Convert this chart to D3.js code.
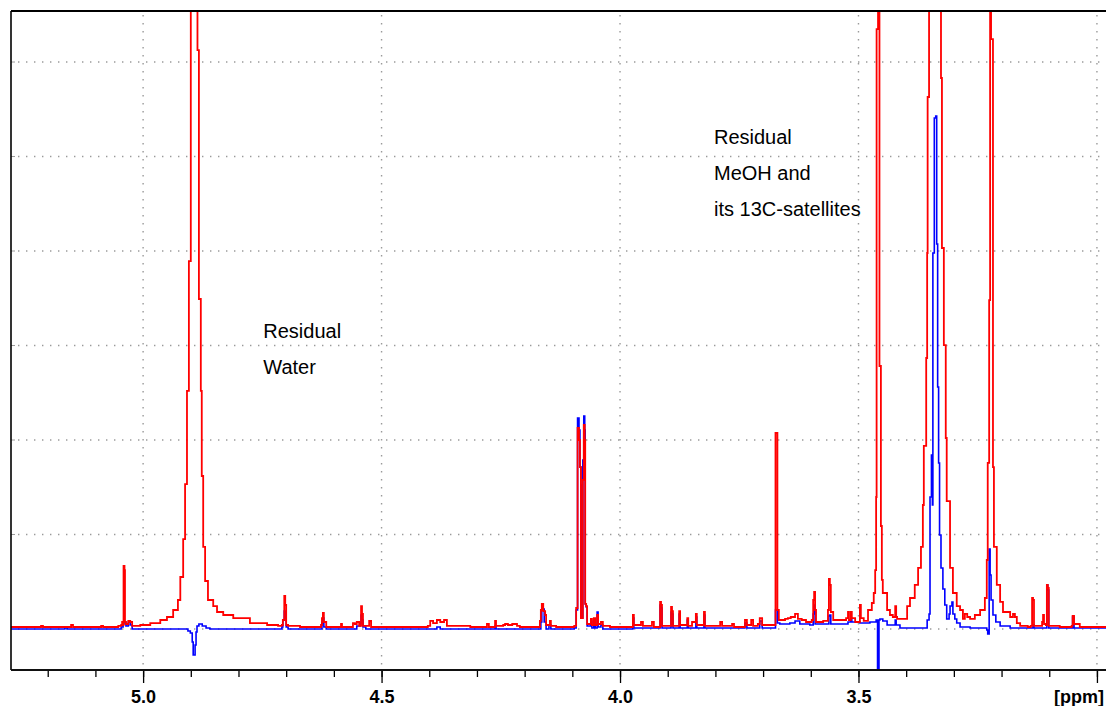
<!DOCTYPE html>
<html>
<head>
<meta charset="utf-8">
<script src="https://cdn.jsdelivr.net/npm/d3@7"></script>
<style>
  html, body { margin: 0; padding: 0; background: #fff; overflow: hidden; }
  svg { display: block; }
</style>
</head>
<body>
<svg id="chart" width="1106" height="706"></svg>
<script>
// 1H NMR overlay, 5.28 - 2.98 ppm. Points are [ppm, intensity]; intensity in grid units.
const OFF = 8; // intensity above the top of the plot frame (clipped)

// red spectrum
const redTrace = [
  [5.277,0.021],[5.216,0.021],[5.214,0.032],[5.210,0.021],[5.153,0.021],[5.151,0.042],[5.147,0.021],
  [5.090,0.021],[5.088,0.032],[5.084,0.021],[5.052,0.032],[5.046,0.042],[5.044,0.074],[5.042,0.042],
  [5.041,0.667],[5.039,0.624],[5.038,0.074],[5.036,0.053],[5.031,0.085],[5.027,0.074],[5.023,0.032],
  [5.006,0.042],[4.985,0.063],[4.964,0.095],[4.950,0.127],[4.937,0.201],[4.927,0.307],[4.922,0.550],
  [4.916,0.952],[4.912,1.534],[4.908,2.519],[4.904,3.894],[4.900,OFF],[4.886,6.127],[4.883,3.492],
  [4.879,2.519],[4.877,1.619],[4.874,0.868],[4.870,0.508],[4.864,0.307],[4.853,0.243],[4.845,0.180],
  [4.832,0.148],[4.811,0.116],[4.776,0.063],[4.740,0.042],[4.717,0.032],[4.709,0.042],[4.707,0.095],
  [4.704,0.349],[4.702,0.254],[4.700,0.042],[4.696,0.032],[4.671,0.021],[4.627,0.042],[4.625,0.116],
  [4.623,0.169],[4.621,0.074],[4.616,0.021],[4.587,0.021],[4.585,0.053],[4.583,0.021],[4.560,0.063],
  [4.556,0.053],[4.552,0.074],[4.547,0.032],[4.543,0.243],[4.541,0.159],[4.539,0.032],[4.526,0.085],
  [4.522,0.021],[4.403,0.032],[4.398,0.085],[4.392,0.063],[4.384,0.095],[4.377,0.074],[4.369,0.095],
  [4.363,0.032],[4.314,0.021],[4.279,0.053],[4.275,0.021],[4.262,0.085],[4.260,0.032],[4.245,0.042],
  [4.241,0.053],[4.235,0.042],[4.226,0.053],[4.216,0.032],[4.210,0.021],[4.168,0.085],[4.166,0.201],
  [4.164,0.265],[4.161,0.190],[4.157,0.148],[4.155,0.042],[4.147,0.085],[4.145,0.032],[4.134,0.021],
  [4.096,0.032],[4.092,0.222],[4.089,2.127],[4.086,2.000],[4.084,1.714],[4.082,0.116],[4.078,1.577],
  [4.076,2.159],[4.074,2.000],[4.073,0.265],[4.071,0.243],[4.069,0.053],[4.061,0.106],[4.059,0.042],
  [4.055,0.116],[4.052,0.042],[4.048,0.148],[4.046,0.053],[4.040,0.074],[4.036,0.032],[4.021,0.021],
  [3.973,0.148],[3.971,0.042],[3.956,0.074],[3.952,0.032],[3.933,0.074],[3.929,0.021],[3.916,0.286],
  [3.914,0.254],[3.912,0.032],[3.893,0.233],[3.891,0.190],[3.889,0.032],[3.876,0.190],[3.874,0.042],
  [3.859,0.116],[3.857,0.032],[3.849,0.074],[3.841,0.159],[3.839,0.042],[3.824,0.180],[3.822,0.032],
  [3.790,0.074],[3.786,0.032],[3.765,0.053],[3.761,0.021],[3.738,0.095],[3.734,0.042],[3.725,0.095],
  [3.721,0.032],[3.711,0.053],[3.707,0.116],[3.702,0.042],[3.674,2.074],[3.670,0.201],[3.667,0.095],
  [3.654,0.106],[3.648,0.116],[3.642,0.127],[3.633,0.159],[3.627,0.106],[3.619,0.095],[3.610,0.074],
  [3.598,0.095],[3.595,0.307],[3.593,0.392],[3.591,0.201],[3.589,0.074],[3.574,0.085],[3.564,0.201],
  [3.562,0.529],[3.560,0.466],[3.558,0.180],[3.553,0.095],[3.532,0.095],[3.526,0.116],[3.522,0.180],
  [3.520,0.095],[3.516,0.180],[3.514,0.116],[3.507,0.074],[3.497,0.254],[3.495,0.116],[3.489,0.085],
  [3.480,0.201],[3.472,0.275],[3.468,0.381],[3.465,0.624],[3.463,1.397],[3.462,6.349],[3.459,OFF],
  [3.456,2.783],[3.453,1.090],[3.451,0.519],[3.449,0.381],[3.440,0.201],[3.434,0.148],[3.428,0.127],
  [3.423,0.243],[3.421,0.127],[3.419,0.106],[3.398,0.243],[3.392,0.328],[3.382,0.466],[3.375,0.646],
  [3.369,0.868],[3.365,1.312],[3.363,1.937],[3.358,2.868],[3.356,3.979],[3.355,5.630],[3.352,OFF],
  [3.327,5.831],[3.325,4.032],[3.321,3.005],[3.317,2.021],[3.315,1.354],[3.308,0.646],[3.302,0.381],
  [3.294,0.243],[3.287,0.201],[3.281,0.106],[3.277,0.159],[3.272,0.127],[3.266,0.106],[3.256,0.148],
  [3.245,0.201],[3.235,0.328],[3.231,0.730],[3.229,1.757],[3.226,3.481],[3.224,OFF],[3.222,6.243],
  [3.218,1.714],[3.216,0.868],[3.210,0.466],[3.203,0.286],[3.197,0.180],[3.182,0.127],[3.176,0.159],
  [3.172,0.127],[3.168,0.063],[3.161,0.032],[3.145,0.021],[3.139,0.032],[3.136,0.328],[3.134,0.307],
  [3.132,0.032],[3.115,0.074],[3.113,0.148],[3.111,0.053],[3.107,0.042],[3.105,0.466],[3.103,0.434],
  [3.101,0.032],[3.078,0.021],[3.053,0.032],[3.051,0.138],[3.048,0.053],[3.036,0.021],[2.981,0.021]
];

// blue spectrum
const blueTrace = [
  [5.277,0],[5.174,0],[5.164,0.011],[5.159,0],[5.052,0],[5.046,0.021],[5.042,0.053],[5.040,0.074],
  [5.036,0.032],[5.031,0.074],[5.027,0.042],[5.023,0],[4.910,0],[4.906,-0.021],[4.901,-0.042],
  [4.897,-0.138],[4.895,-0.275],[4.891,-0.169],[4.889,-0.032],[4.887,0.032],[4.883,0.053],[4.876,0.032],
  [4.868,0.011],[4.860,0],[4.709,0.021],[4.707,0.095],[4.704,0.190],[4.702,0.116],[4.700,0.021],
  [4.696,0],[4.625,0.063],[4.623,0.116],[4.621,0.021],[4.616,0],[4.552,0.032],[4.545,0.063],
  [4.543,0.148],[4.541,0.095],[4.539,0.021],[4.533,0],[4.384,0.021],[4.377,0],[4.262,0.032],[4.260,0],
  [4.166,0.074],[4.164,0.212],[4.159,0.074],[4.155,0],[4.149,0.042],[4.145,0],[4.096,0.011],
  [4.092,0.201],[4.089,2.233],[4.086,2.106],[4.084,1.714],[4.082,1.524],[4.080,0.116],[4.078,1.788],
  [4.076,2.254],[4.074,2.106],[4.073,0.265],[4.071,0.233],[4.069,0.032],[4.061,0.085],[4.059,0.011],
  [4.055,0.085],[4.052,0.011],[4.048,0.180],[4.046,0.021],[4.040,0.042],[4.036,0],[3.973,0.116],
  [3.971,0.011],[3.916,0.254],[3.914,0.222],[3.912,0.011],[3.893,0.180],[3.891,0.159],[3.889,0.011],
  [3.876,0.159],[3.874,0.011],[3.859,0.095],[3.857,0.011],[3.841,0.127],[3.839,0.011],[3.824,0.148],
  [3.822,0.011],[3.738,0.063],[3.734,0.011],[3.707,0.085],[3.702,0.011],[3.674,0.201],[3.670,0.063],
  [3.665,0.053],[3.644,0.063],[3.633,0.085],[3.623,0.053],[3.602,0.042],[3.595,0.159],[3.593,0.254],
  [3.591,0.053],[3.562,0.138],[3.560,0.148],[3.558,0.053],[3.522,0.074],[3.516,0.106],[3.514,0.074],
  [3.497,0.063],[3.476,0.074],[3.463,0.095],[3.460,-0.751],[3.457,0.095],[3.455,0.106],[3.449,0.085],
  [3.440,0.042],[3.423,0.095],[3.421,0.042],[3.413,0.011],[3.356,0.095],[3.352,0.159],[3.350,1.397],
  [3.347,1.841],[3.345,1.312],[3.344,3.979],[3.341,5.407],[3.338,5.429],[3.336,4.074],[3.334,2.561],
  [3.332,1.757],[3.330,0.995],[3.327,0.646],[3.323,0.423],[3.319,0.254],[3.315,0.106],[3.310,0.159],
  [3.308,0.243],[3.304,0.286],[3.302,0.159],[3.298,0.106],[3.294,0.063],[3.287,0.021],[3.266,0.011],
  [3.231,-0.011],[3.229,-0.053],[3.226,0.847],[3.224,0.571],[3.222,0.307],[3.218,0.148],[3.212,0.074],
  [3.203,0.032],[3.182,0.011],[3.134,0.042],[3.132,0.011],[3.105,0.466],[3.103,0.413],[3.101,0.011],
  [3.051,0.127],[3.048,0.011],[2.981,0.011]
];

const majorTicks = [5.0, 4.5, 4.0, 3.5, 3.0];
const tickLabels = ["5.0", "4.5", "4.0", "3.5", ""];
const minorTicks = d3.range(30, 53).map(d => d / 10);
const unitLabel = "[ppm]";
const gridLevels = [0, 1, 2, 3, 4, 5, 6];
const waterNote = ["Residual", "Water"];
const methanolNote = ["Residual", "MeOH and", "its 13C-satellites"];

(function draw() {
  const W = 1106;
  const mLeft = 11, mTop = 11, mRight = 1106, mBottom = 670;

  const x = d3.scaleLinear().domain([5.277, 2.981]).range([mLeft, mRight]);
  const y = d3.scaleLinear().domain([-0.434, 6.54]).range([mBottom, mTop]);

  const svg = d3.select("#chart");
  const font = "'Liberation Sans', Arial, sans-serif";

  svg.append("defs").append("clipPath").attr("id", "plotClip")
    .append("rect").attr("x", mLeft).attr("y", mTop + 1)
    .attr("width", mRight - mLeft).attr("height", mBottom - mTop - 1);

  // dotted grid
  const grid = svg.append("g").attr("stroke", "#9a9a9a").attr("stroke-width", 1.4)
    .attr("stroke-dasharray", "1.4,6.6");
  grid.selectAll("line.h").data(gridLevels).join("line")
    .attr("class", "h")
    .attr("x1", mLeft + 7).attr("x2", mRight)
    .attr("y1", d => y(d)).attr("y2", d => y(d));
  grid.selectAll("line.v").data(majorTicks).join("line")
    .attr("class", "v")
    .attr("x1", d => x(d)).attr("x2", d => x(d))
    .attr("y1", mTop + 4).attr("y2", mBottom);

  // small marks on the left frame at each grid level
  svg.append("g").selectAll("line").data(gridLevels.slice(1)).join("line")
    .attr("x1", mLeft).attr("x2", mLeft + 4)
    .attr("y1", d => y(d)).attr("y2", d => y(d))
    .attr("stroke", "#9a9a9a").attr("stroke-width", 1);

  // spectra
  const line = d3.line()
    .x(d => x(d[0]))
    .y(d => y(d[1]))
    .curve(d3.curveStepAfter);

  const traces = svg.append("g").attr("clip-path", "url(#plotClip)");
  traces.append("path").datum(blueTrace)
    .attr("d", line).attr("fill", "none")
    .attr("stroke", "#0000ff").attr("stroke-width", 1.6);
  traces.append("path").datum(redTrace)
    .attr("d", line).attr("fill", "none")
    .attr("stroke", "#ff0000").attr("stroke-width", 1.8);

  // frame
  svg.append("line").attr("x1", mLeft).attr("x2", W).attr("y1", mTop).attr("y2", mTop)
    .attr("stroke", "#000").attr("stroke-width", 2);
  svg.append("line").attr("x1", mLeft).attr("x2", mLeft).attr("y1", mTop).attr("y2", mBottom)
    .attr("stroke", "#000").attr("stroke-width", 1.6);

  // x axis
  const axisG = svg.append("g").attr("transform", `translate(0,${mBottom})`);
  axisG.append("g")
    .call(d3.axisBottom(x).tickValues(minorTicks).tickSize(7).tickFormat(""))
    .call(g => g.select(".domain").remove())
    .call(g => g.selectAll(".tick line").attr("stroke", "#000").attr("stroke-width", 1.3));
  axisG.append("g")
    .call(d3.axisBottom(x).tickValues(majorTicks).tickSize(13)
      .tickFormat((d, i) => tickLabels[i]))
    .call(g => g.select(".domain").remove())
    .call(g => g.selectAll(".tick line").attr("stroke", "#000").attr("stroke-width", 1.3))
    .call(g => g.selectAll(".tick text")
      .attr("y", 33).attr("dy", 0)
      .attr("fill", "#000")
      .attr("font-family", font)
      .attr("font-weight", "bold")
      .attr("font-size", 18));
  axisG.append("line").attr("x1", mLeft).attr("x2", W).attr("y1", 0).attr("y2", 0)
    .attr("stroke", "#111").attr("stroke-width", 2.2);

  svg.append("text")
    .attr("x", 1104).attr("y", 703)
    .attr("text-anchor", "end")
    .attr("font-family", font)
    .attr("font-weight", "bold").attr("font-size", 18)
    .attr("fill", "#000")
    .text(unitLabel);

  // annotations
  function note(lines, ppm, level) {
    svg.append("g").selectAll("text").data(lines).join("text")
      .attr("x", x(ppm))
      .attr("y", (d, i) => y(level) + i * 36)
      .attr("font-family", font)
      .attr("font-size", 20)
      .attr("fill", "#000")
      .text(d => d);
  }
  note(waterNote, 4.748, 3.079);
  note(methanolNote, 3.803, 5.132);
})();
</script>
</body>
</html>
